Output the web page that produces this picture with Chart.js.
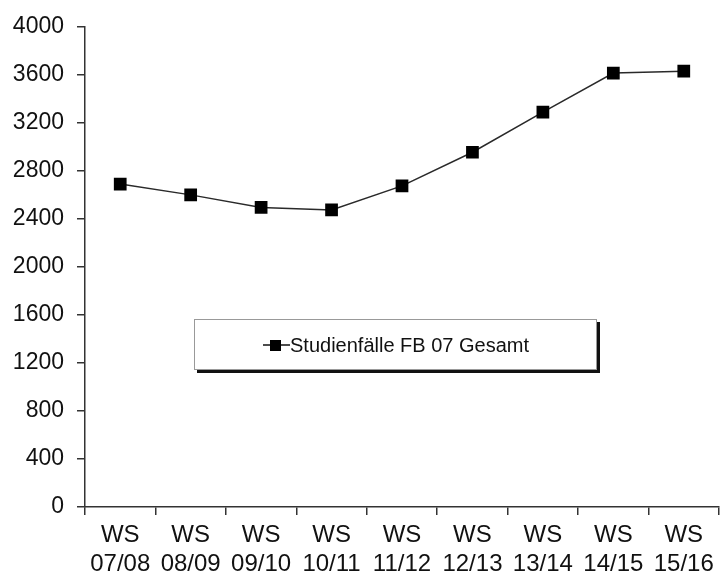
<!DOCTYPE html>
<html>
<head>
<meta charset="utf-8">
<script src="https://cdn.jsdelivr.net/npm/chart.js@4"></script>
<style>
  html, body { margin: 0; padding: 0; background: #fff; }
  #wrap { width: 728px; height: 573px; }
</style>
</head>
<body>
<div id="wrap"><canvas id="chart" width="728" height="573"></canvas></div>
<script>
// Data
const semesters = [['WS', '07/08'], ['WS', '08/09'], ['WS', '09/10'], ['WS', '10/11'], ['WS', '11/12'],
  ['WS', '12/13'], ['WS', '13/14'], ['WS', '14/15'], ['WS', '15/16']];
const studienfaelle = [2690, 2600, 2495, 2475, 2675, 2955, 3290, 3615, 3630];
const seriesLabel = 'Studienfälle FB 07 Gesamt';
const yTicks = [0, 400, 800, 1200, 1600, 2000, 2400, 2800, 3200, 3600, 4000];

const FONT = "'Liberation Sans', Arial, sans-serif";

// Legend box drawn inside the plot (like the original)
const boxLegend = {
  id: 'boxLegend',
  afterDraw(chart) {
    const ctx = chart.ctx;
    const ds = chart.data.datasets[0];
    const x = 194, y = 319, w = 403, h = 51;
    ctx.save();
    // shadow
    ctx.fillStyle = '#111';
    ctx.fillRect(x + 3, y + 3, w, h);
    ctx.fillStyle = '#fff';
    ctx.fillRect(x, y, w, h);
    ctx.strokeStyle = '#999';
    ctx.lineWidth = 1;
    ctx.strokeRect(x + 0.5, y + 0.5, w - 1, h - 1);
    // marker
    const cy = y + 26;
    ctx.strokeStyle = '#111';
    ctx.lineWidth = 1.5;
    ctx.beginPath();
    ctx.moveTo(263, cy);
    ctx.lineTo(290, cy);
    ctx.stroke();
    ctx.fillStyle = '#000';
    ctx.fillRect(270, cy - 5, 11, 11);
    // text
    ctx.font = '20px ' + FONT;
    ctx.fillStyle = '#111';
    ctx.textBaseline = 'middle';
    ctx.textAlign = 'left';
    ctx.fillText(ds.label, 290, cy + 1);
    ctx.restore();
  }
};

new Chart(document.getElementById('chart'), {
  type: 'line',
  data: {
    labels: semesters,
    datasets: [{
      label: seriesLabel,
      data: studienfaelle,
      borderColor: '#2a2a2a',
      borderWidth: 1.5,
      backgroundColor: '#000',
      pointStyle: 'rect',
      pointRadius: 9,
      pointBorderWidth: 0,
      pointBackgroundColor: '#000',
      tension: 0
    }]
  },
  options: {
    responsive: false,
    animation: false,
    layout: { padding: { top: 25, right: 1, left: 0, bottom: 0 } },
    plugins: {
      legend: { display: false },
      tooltip: { enabled: false }
    },
    scales: {
      x: {
        offset: true,
        grid: {
          offset: true,
          drawOnChartArea: false,
          drawTicks: true,
          tickLength: 8,
          color: '#333',
          lineWidth: 1.5
        },
        border: { color: '#333', width: 1.5 },
        ticks: {
          color: '#111',
          padding: 6,
          maxRotation: 0,
          autoSkip: false,
          font: { family: FONT, size: 24, lineHeight: 1.2 }
        },
        afterFit(scale) { scale.height = 66; }
      },
      y: {
        min: 0,
        max: 4000,
        afterBuildTicks(scale) { scale.ticks = yTicks.map(v => ({ value: v })); },
        grid: {
          drawOnChartArea: false,
          drawTicks: true,
          tickLength: 8,
          color: '#333',
          lineWidth: 1.5
        },
        border: { color: '#333', width: 1.5 },
        ticks: {
          color: '#111',
          padding: 13,
          font: { family: FONT, size: 23 },
          callback: (v) => String(v)
        },
        afterFit(scale) { scale.width = 85; }
      }
    }
  },
  plugins: [boxLegend]
});
</script>
</body>
</html>
